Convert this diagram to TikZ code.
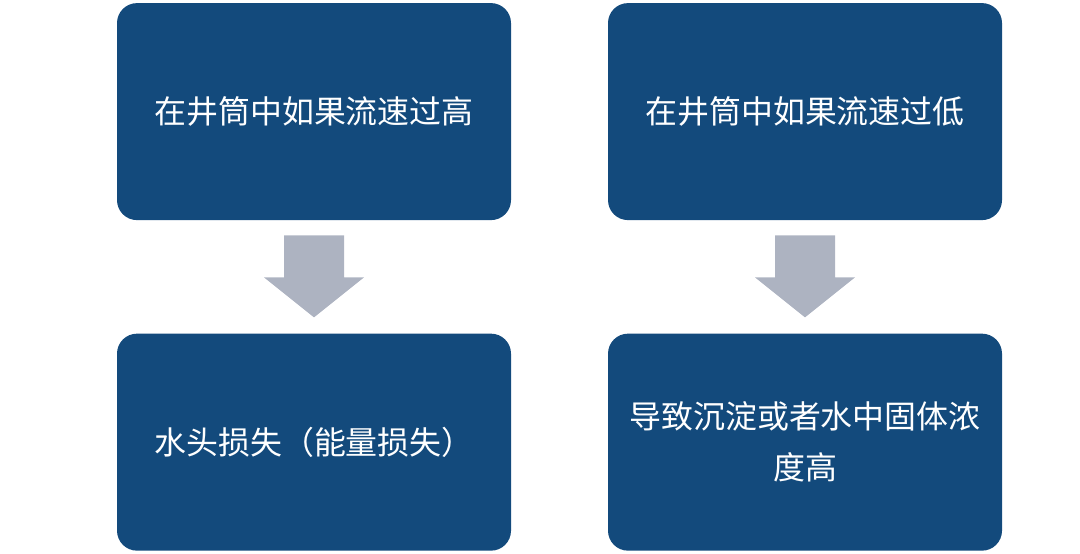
\documentclass[tikz,border=0pt]{standalone}
\usepackage{fontspec}
\setmainfont{Noto Sans CJK SC}
\usepackage{xcolor}
\usetikzlibrary{positioning,calc}
\definecolor{boxblue}{HTML}{134A7C}
\definecolor{arrowgray}{HTML}{ADB3C1}

\begin{document}
\begin{tikzpicture}[
  box/.style={fill=boxblue,rounded corners=0.5cm,minimum width=9.85cm,minimum height=5.425cm,
    text=white,align=center,text width=9cm,inner sep=0pt,font=\fontsize{22.7}{36.3}\selectfont},
  downarrow/.style={fill=arrowgray}]
\useasboundingbox (0,0) rectangle (27,-13.825);
\node[box] (hightop) at (7.85,-2.79) {在井筒中如果流速过高};
\node[box] (lowtop) at (20.125,-2.79) {在井筒中如果流速过低};
\node[box,below=2.825cm of hightop] (highres) {水头损失（能量损失）};
\node[box,below=2.825cm of lowtop] (lowres) {导致沉淀或者水中固体浓\\度高};
% block arrows between the rows
\foreach \n in {hightop,lowtop}{
  \fill[downarrow] ($(\n.south)+(-0.75,-0.375)$) -- ($(\n.south)+(0.75,-0.375)$)
    -- ($(\n.south)+(0.75,-1.425)$) -- ($(\n.south)+(1.25,-1.425)$)
    -- ($(\n.south)+(0,-2.425)$) -- ($(\n.south)+(-1.25,-1.425)$)
    -- ($(\n.south)+(-0.75,-1.425)$) -- cycle;
}
\end{tikzpicture}
\end{document}
